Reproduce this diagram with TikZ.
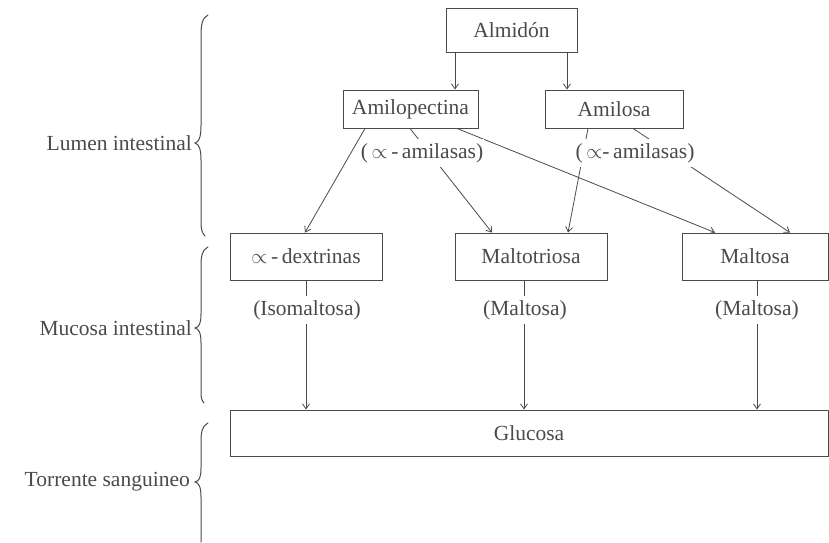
\documentclass[tikz,border=0pt]{standalone}
\usepackage{fontspec}
\setmainfont{Liberation Serif}
\usetikzlibrary{arrows.meta}
\definecolor{ink}{HTML}{4A4A4A}
\begin{document}
\begin{tikzpicture}[x=1pt,y=-1pt,
  font=\fontsize{21.5}{25}\selectfont, text=ink,
  box/.style 2 args={draw=ink, line width=0.9pt, inner sep=0pt,
    minimum width=#1, minimum height=#2},
  lbl/.style={fill=white, inner xsep=1pt, inner ysep=4pt},
  side/.style={anchor=east, inner sep=0pt},
  conn/.style={draw=ink, line width=0.8pt},
  arr/.style={conn, -{Straight Barb[length=5pt,width=7pt]}},
  brace/.style={draw=ink, line width=1pt, line cap=round}]

\useasboundingbox (0,0) rectangle (829,542);

% compartments
\node[side] (lumen)    at (192,143) {Lumen intestinal};
\node[side] (mucosa)   at (192,328) {Mucosa intestinal};
\node[side] (torrente) at (190,482) {Torrente sanguineo};

\draw[brace] (208,15) .. controls (202,18) and (201,25) .. (201,36) -- (201,126)
  .. controls (201,137) and (199,142) .. (195,143)
  .. controls (199,144) and (201,149) .. (201,160) -- (201,222)
  .. controls (201,229) and (202,233) .. (205,236);
\draw[brace] (208,247) .. controls (202,250) and (201,256) .. (201,266) -- (201,314)
  .. controls (201,324) and (199,327) .. (195,328)
  .. controls (199,329) and (201,333) .. (201,343) -- (201,392)
  .. controls (201,398) and (202,401) .. (204,403);
\draw[brace] (208,423) .. controls (202,426) and (201,432) .. (201,442) -- (201,468)
  .. controls (201,478) and (199,481) .. (195,482)
  .. controls (199,483) and (201,487) .. (201,497) -- (201,542);

% boxes
\node[box={131pt}{44pt}]  (almidon)      at (511.5,30)  {Almidón};
\node[box={135pt}{38pt}]  (amilopectina) at (410.5,109) {Amilopectina};
\node[box={138pt}{38pt}]  (amilosa)      at (614,109)   {Amilosa};
\node[box={152pt}{47pt}]  (dextrinas)    at (306,256.5) {$\propto$\,-\,dextrinas};
\node[box={152pt}{47pt}]  (maltotriosa)  at (531,256.5) {Maltotriosa};
\node[box={146pt}{47pt}]  (maltosa)      at (755,256.5) {Maltosa};
\node[box={598pt}{46pt}]  (glucosa)      at (529,433)   {Glucosa};

% starch split
\draw[arr] ([xshift=-56.5pt]almidon.south) -- ([xshift=44.5pt]amilopectina.north);
\draw[arr] ([xshift=55.5pt]almidon.south) -- ([xshift=-47pt]amilosa.north);

% amylase cleavage
\draw[arr] ([xshift=-45.5pt]amilopectina.south) -- ([xshift=-1pt]dextrinas.north);
\draw[arr] ([xshift=-0.5pt]amilopectina.south) -- ([xshift=-39pt]maltotriosa.north);
\draw[arr] ([xshift=46.5pt]amilopectina.south) -- ([xshift=-40pt]maltosa.north);
\draw[arr] ([xshift=-26pt]amilosa.south) -- ([xshift=37pt]maltotriosa.north);
\draw[arr] ([xshift=19pt]amilosa.south) -- ([xshift=35pt]maltosa.north);

% mucosal enzymes
\coordinate (c1) at (306,0);
\coordinate (c2) at (524,0);
\coordinate (c3) at (757,0);
\draw[arr] (dextrinas.south -| c1) -- (glucosa.north -| c1);
\draw[arr] (maltotriosa.south -| c2) -- (glucosa.north -| c2);
\draw[arr] (maltosa.south -| c3) -- (glucosa.north -| c3);

% enzyme labels
\node[lbl] (amil1) at (422,153) {(\,$\propto$\,-\,amilasas)};
\node[lbl] (amil2) at (635,153) {(\,$\propto$-\,amilasas)};
\node[lbl] (isomal) at (307,310) {(Isomaltosa)};
\node[lbl] (mal1) at (525,310) {(Maltosa)};
\node[lbl] (mal2) at (757,310) {(Maltosa)};
\end{tikzpicture}
\end{document}
